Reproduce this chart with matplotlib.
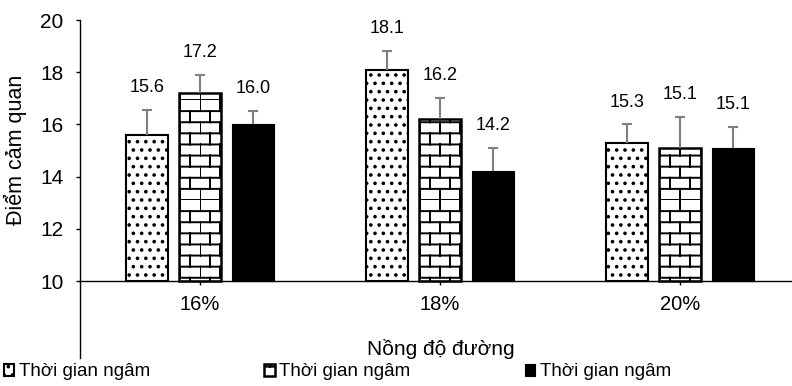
import numpy as np
import matplotlib
matplotlib.use('Agg')
import matplotlib.pyplot as plt
from matplotlib import hatch as mhatch
from matplotlib.path import Path


class Bricks(mhatch.HatchPatternBase):
    '''Brick wall hatch, selected with the letter "b".'''

    def __init__(self, hatch, density):
        self.rows = hatch.count('b') * 9
        self.cols = 5
        # one horizontal line per row plus cols vertical segments per row
        self.num_vertices = self.rows * (2 + 2 * self.cols)

    def set_vertices_and_codes(self, vertices, codes):
        h = 1.0 / self.rows
        w = 1.0 / self.cols
        i = 0
        for r in range(self.rows):
            y0 = r * h
            vertices[i] = (0.0, y0)
            vertices[i + 1] = (1.0, y0)
            codes[i] = Path.MOVETO
            codes[i + 1] = Path.LINETO
            i += 2
            shift = 0.0 if r % 2 == 0 else w / 2
            for c in range(self.cols):
                x0 = c * w + shift
                vertices[i] = (x0, y0)
                vertices[i + 1] = (x0, y0 + h)
                codes[i] = Path.MOVETO
                codes[i + 1] = Path.LINETO
                i += 2


mhatch._hatch_types.append(Bricks)

plt.rcParams['font.family'] = ['Liberation Sans', 'DejaVu Sans']
plt.rcParams['hatch.linewidth'] = 1.4
plt.rcParams['hatch.color'] = '#202020'

# data
categories = ['16%', '18%', '20%']
series_names = ['Thời gian ngâm', 'Thời gian ngâm', 'Thời gian ngâm']
dotted_vals = [15.6, 18.1, 15.3]
brick_vals = [17.2, 16.2, 15.1]
black_vals = [16.0, 14.2, 15.1]
dotted_err = [0.95, 0.7, 0.7]
brick_err = [0.7, 0.8, 1.2]
black_err = [0.5, 0.9, 0.8]
y_ticks = [10, 12, 14, 16, 18, 20]

fig = plt.figure(figsize=(7.92, 3.86), dpi=100)
ax = fig.add_axes([80 / 792, 1 - 358 / 386, 711 / 792, 338 / 386])

x = np.arange(len(categories))
width = 0.175
offsets = [-0.22, 0.0, 0.22]
styles = [
    dict(color='white', edgecolor='black', hatch='..', linewidth=1.5),
    dict(color='white', edgecolor='black', hatch='b', linewidth=1.8),
    dict(color='black', edgecolor='black', linewidth=0.8),
]
all_vals = [dotted_vals, brick_vals, black_vals]
all_errs = [dotted_err, brick_err, black_err]

handles = []
for vals, errs, off, st, name in zip(all_vals, all_errs, offsets, styles, series_names):
    vals = np.array(vals)
    errs = np.array(errs)
    xs = x + off
    bars = ax.bar(xs, vals - 10, width, bottom=10, label=name, zorder=2, **st)
    handles.append(bars)
    # upper error bars only
    ax.vlines(xs, vals, vals + errs, color='#7f7f7f', linewidth=1.5, zorder=3)
    ax.plot(xs, vals + errs, ls='none', marker='_', ms=7, mew=1.5,
            color='#7f7f7f', zorder=3)
    for xi, v, e in zip(xs, vals, errs):
        ax.annotate(f'{v:.1f}', (xi, v + e), xytext=(0, 10), textcoords='offset points',
                    ha='center', va='bottom', fontsize=13, annotation_clip=False)

ax.set_xlim(-0.5, 2.4625)
ax.set_ylim(7.05, 20)
ax.set_yticks(y_ticks)
ax.set_xticks(x)
ax.set_xticklabels(categories)
ax.spines['bottom'].set_position(('data', 10))
ax.spines['top'].set_visible(False)
ax.spines['right'].set_visible(False)
ax.spines['left'].set_linewidth(1.0)
ax.spines['bottom'].set_linewidth(1.0)
ax.tick_params(axis='y', direction='out', length=3, width=1, pad=9, labelsize=15)
ax.tick_params(axis='x', direction='out', length=3, width=1, pad=7, labelsize=14.5)

ax.set_ylabel('Điểm cảm quan', fontsize=15.5)
ax.yaxis.set_label_coords((27 - 80) / 711, (358 - 150) / 338)

fig.text(441 / 792, 1 - 349 / 386, 'Nồng độ đường', ha='center', va='center', fontsize=15)

fig.legend(handles=handles, labels=series_names, loc='center left',
           bbox_to_anchor=(0.0, 1 - 372 / 386), ncol=3, frameon=False,
           fontsize=13.5, handlelength=0.55, handleheight=0.55, handletextpad=0.25,
           columnspacing=6.1, borderaxespad=0, borderpad=0.2)

fig.savefig('out.png', dpi=100)
